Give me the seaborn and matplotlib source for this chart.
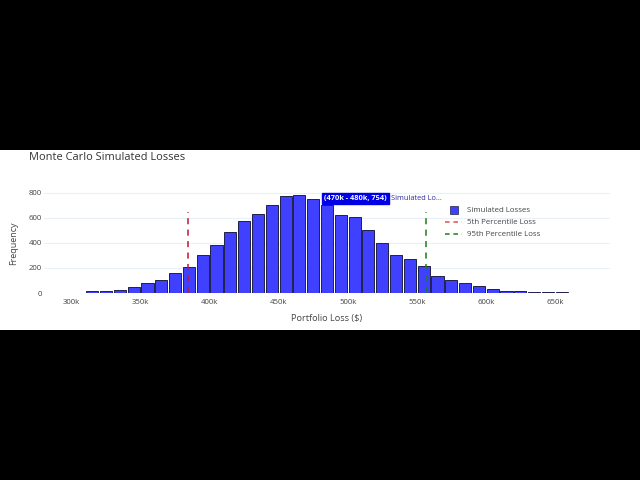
import numpy as np
import pandas as pd
import matplotlib
matplotlib.use("Agg")
import matplotlib.pyplot as plt
from matplotlib.patches import Rectangle
from matplotlib.lines import Line2D
import seaborn as sns

# ---- data ----
bin_width = 10_000
bin_lefts = list(range(280_000, 690_000, bin_width))
counts = [2, 2, 3, 13, 19, 24, 51, 77, 104, 160,
          205, 301, 384, 488, 571, 632, 699, 773, 781, 754,
          701, 621, 603, 501, 400, 304, 275, 213, 133, 101,
          77, 59, 35, 13, 19, 11, 10, 5, 1, 3, 3]
p5_loss = 384_000
p95_loss = 556_500
line_top = 645
x_ticks = [300_000, 350_000, 400_000, 450_000, 500_000, 550_000, 600_000, 650_000]
x_tick_labels = ["300k", "350k", "400k", "450k", "500k", "550k", "600k", "650k"]
y_ticks = [0, 200, 400, 600, 800]
hover_text = "(470k - 480k, 754)"
hover_name = "Simulated Lo..."
hover_x = 480_000
hover_y = 754

sns.set_theme(style="white")
plt.rcParams['font.family'] = ['Open Sans', 'DejaVu Sans']

df = pd.DataFrame({"loss": [b + bin_width / 2 for b in bin_lefts], "count": counts})
edges = bin_lefts + [bin_lefts[-1] + bin_width]

fig = plt.figure(figsize=(6.4, 4.8), dpi=100, facecolor="black")
fig.patches.append(Rectangle((0, 1 - 330 / 480), 1, 180 / 480, transform=fig.transFigure,
                             facecolor="white", edgecolor="none", zorder=-10))

ax = fig.add_axes([44 / 640, 1 - 293 / 480, 566 / 640, 103 / 480])
ax.set_zorder(1)
ax.set_facecolor("white")

sns.histplot(data=df, x="loss", weights="count", bins=edges, ax=ax,
             color="#4040ff", alpha=1.0, shrink=0.88,
             edgecolor="#20204a", linewidth=0.7, zorder=2)

ax.plot([p5_loss, p5_loss], [0, line_top], color="#c0143c", lw=1.1,
        linestyle=(0, (4, 3.5)), zorder=3)
ax.plot([p95_loss, p95_loss], [0, line_top], color="#1a7f1a", lw=1.1,
        linestyle=(0, (4, 3.5)), zorder=3)

ax.set_xlim(edges[0], edges[-1])
ax.set_ylim(0, 822)
ax.set_xticks(x_ticks)
ax.set_xticklabels(x_tick_labels)
ax.set_yticks(y_ticks)
ax.tick_params(axis="both", length=0, labelsize=5.6, labelcolor="#444444")
ax.tick_params(axis="x", pad=4.5)
ax.tick_params(axis="y", pad=1.5)
ax.grid(axis="y", color="#EBF0F8", linewidth=0.8, zorder=0)
ax.set_axisbelow(True)
for s in ax.spines.values():
    s.set_visible(False)
ax.set_xlabel("")
ax.set_ylabel("")

fig.text(29 / 640, 1 - 157 / 480, "Monte Carlo Simulated Losses", fontsize=7.9,
         color="#333333", ha="left", va="center")
fig.text(327 / 640, 1 - 319 / 480, "Portfolio Loss ($)", fontsize=6.6,
         color="#444444", ha="center", va="center")
fig.text(14 / 640, 1 - 243 / 480, "Frequency", fontsize=6.5, rotation=90,
         color="#444444", ha="center", va="center")

handles = [
    Line2D([], [], marker="s", linestyle="none", markersize=5.5,
           markerfacecolor="#4040ff", markeredgecolor="#20204a", markeredgewidth=0.5),
    Line2D([], [], color="#e05050", lw=1.1, linestyle=(0, (3, 2.5))),
    Line2D([], [], color="#1a7f1a", lw=1.1, linestyle=(0, (3, 2.5))),
]
labels = ["Simulated Losses", "5th Percentile Loss", "95th Percentile Loss"]
ax.legend(handles, labels, loc="upper left", bbox_to_anchor=(441 / 640, 1 - 203 / 480),
          bbox_transform=fig.transFigure, frameon=False, fontsize=5.7,
          handlelength=2.2, handletextpad=0.6, borderpad=0, labelspacing=0.55,
          labelcolor="#444444")

ax.annotate(hover_text, xy=(hover_x, hover_y), xytext=(3, 0), textcoords="offset points",
            ha="left", va="center", fontsize=5.3, color="white", fontweight="bold",
            bbox=dict(boxstyle="square,pad=0.25", facecolor="#0000e6", edgecolor="#0000e6"),
            zorder=5)
ax.annotate(hover_name, xy=(hover_x, hover_y), xytext=(51, 0), textcoords="offset points",
            ha="left", va="center", fontsize=5.3, color="#2a2aa0", zorder=5)

fig.savefig("out.png", dpi=100, facecolor=fig.get_facecolor())
